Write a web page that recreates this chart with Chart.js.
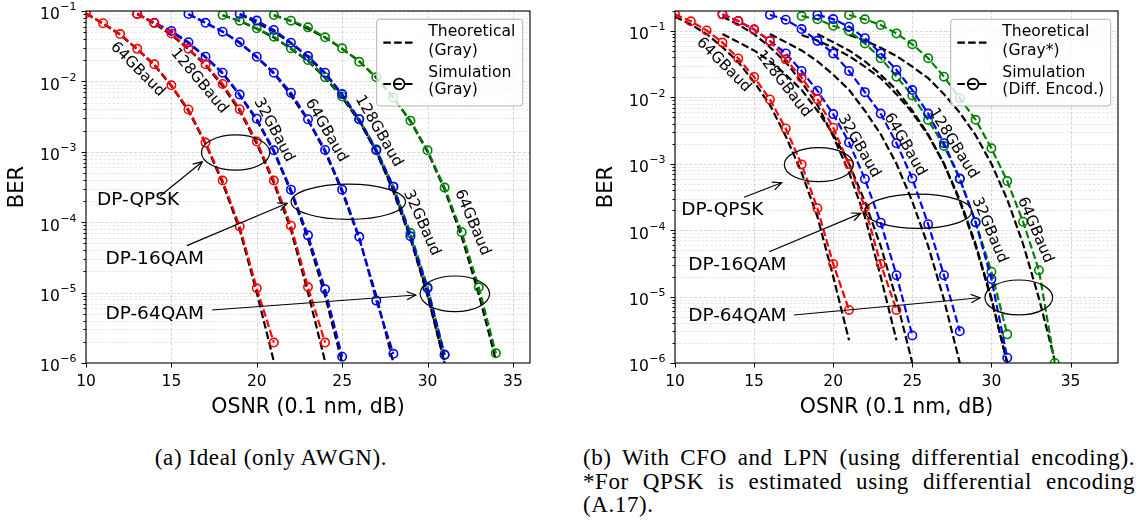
<!DOCTYPE html>
<html lang="en">
<head>
<meta charset="utf-8">
<title>BER vs OSNR</title>
<script src="https://cdn.jsdelivr.net/npm/chart.js@4.4.1/dist/chart.umd.min.js"></script>
<style>
  html, body { margin: 0; padding: 0; background: #fff; }
  body { position: relative; width: 1141px; height: 522px; overflow: hidden; }
  canvas { position: absolute; top: 0; }
  #panelA { left: 0; }
  #panelB { left: 560px; }
  .caption { position: absolute; font-family: "Liberation Serif", "Times New Roman", serif; font-size: 23px;
             color: #000; letter-spacing: 0.6px; line-height: 23.5px; white-space: nowrap; }
  #capA { left: 0; width: 542px; top: 446px; text-align: center; }
  #capB { left: 583px; width: 552px; top: 446px; }
  #capB .j { text-align: justify; text-align-last: justify; white-space: normal; }
</style>
</head>
<body>
<canvas id="panelA" width="560" height="420"></canvas>
<canvas id="panelB" width="581" height="420"></canvas>
<div class="caption" id="capA">(a) Ideal (only AWGN).</div>
<div class="caption" id="capB">
  <div class="j">(b) With CFO and LPN (using differential encoding).</div>
  <div class="j">*For QPSK is estimated using differential encoding</div>
  <div>(A.17).</div>
</div>
<script>
// ---------- axes ----------
const xTickValues = [10, 15, 20, 25, 30, 35];
const yTickValues = [1e-6, 1e-5, 1e-4, 1e-3, 1e-2, 1e-1];
const yTickBase = '10';
const yTickExponents = ['−6', '−5', '−4', '−3', '−2', '−1'];

// ---------- OSNR grids (dB) ----------
const osnrQpsk64   = [10, 11, 12, 13, 14, 15, 16, 17, 18, 19, 20, 21];
const osnrQpsk128  = [13, 14, 15, 16, 17, 18, 19, 20, 21, 22, 23, 24];
const osnr16qam32  = [13, 14, 15, 16, 17, 18, 19, 20, 21, 22, 23, 24, 25];
const osnr16qam64  = [16, 17, 18, 19, 20, 21, 22, 23, 24, 25, 26, 27, 28];
const osnr16qam128 = [19, 20, 21, 22, 23, 24, 25, 26, 27, 28, 29, 30, 31];
const osnr64qam32  = [18, 19, 20, 21, 22, 23, 24, 25, 26, 27, 28, 29, 30, 31];
const osnr64qam64  = [21, 22, 23, 24, 25, 26, 27, 28, 29, 30, 31, 32, 33, 34];

// ---------- theoretical BER, Gray mapping ----------
const thQpsk64   = [0.092, 0.066, 0.046, 0.0285, 0.017, 0.0086, 0.0038, 0.0013, 3.6e-4, 7.8e-5, 1.0e-5, 1.05e-6];
const thQpsk128  = [0.092, 0.066, 0.046, 0.0285, 0.017, 0.0086, 0.0038, 0.0013, 3.6e-4, 7.8e-5, 1.0e-5, 1.05e-6];
const th16qam32  = [0.09, 0.068, 0.051, 0.035, 0.022, 0.013, 0.0063, 0.0028, 0.001, 2.7e-4, 5.8e-5, 9.0e-6, 1.0e-6];
const th16qam64  = [0.09, 0.068, 0.051, 0.035, 0.022, 0.013, 0.0063, 0.0028, 0.001, 2.7e-4, 5.8e-5, 9.0e-6, 1.0e-6];
const th16qam128 = [0.09, 0.068, 0.051, 0.035, 0.022, 0.013, 0.0063, 0.0028, 0.001, 2.7e-4, 5.8e-5, 9.0e-6, 1.0e-6];
const th64qam32  = [0.087, 0.072, 0.056, 0.042, 0.029, 0.0195, 0.0112, 0.0059, 0.0027, 0.001, 2.9e-4, 6.2e-5, 9.5e-6, 1.0e-6];
const th64qam64  = [0.087, 0.072, 0.056, 0.042, 0.029, 0.0195, 0.0112, 0.0059, 0.0027, 0.001, 2.9e-4, 6.2e-5, 9.5e-6, 1.1e-6];
// QPSK estimate with differential encoding (Gray*)
const thDeQpsk64  = [0.164, 0.125, 0.09, 0.057, 0.034, 0.017, 0.0077, 0.0026, 7.4e-4, 1.6e-4, 2.0e-5, 2.2e-6];
const thDeQpsk128 = [0.164, 0.125, 0.09, 0.057, 0.034, 0.017, 0.0077, 0.0026, 7.4e-4, 1.6e-4, 2.0e-5, 2.2e-6];

// ---------- simulated BER, ideal channel (Gray) ----------
const aQpsk64   = [0.093, 0.067, 0.047, 0.029, 0.0175, 0.0088, 0.004, 0.00135, 3.9e-4, 8.7e-5, 1.15e-5, 1.95e-6];
const aQpsk128  = [0.091, 0.0676, 0.048, 0.0292, 0.0175, 0.0092, 0.00403, 0.0014, 3.9e-4, 8.9e-5, 1.2e-5, 1.95e-6];
const a16qam32  = [0.091, 0.068, 0.052, 0.036, 0.0224, 0.0133, 0.0065, 0.00295, 0.00105, 2.9e-4, 6.5e-5, 1.12e-5, 1.23e-6];
const a16qam64  = [0.0906, 0.068, 0.0508, 0.036, 0.0224, 0.0133, 0.0069, 0.0029, 0.00106, 2.9e-4, 6.2e-5, 7.7e-6, 1.35e-6];
const a16qam128 = [0.091, 0.073, 0.0537, 0.0355, 0.0229, 0.0133, 0.0066, 0.0029, 0.00105, 3.2e-4, 6.3e-5, 1.15e-5, 1.3e-6];
const a64qam32  = [0.0877, 0.0728, 0.0568, 0.0432, 0.0295, 0.0201, 0.0115, 0.0061, 0.0029, 0.00109, 3.2e-4, 7.0e-5, 1.2e-5, 1.32e-6];
const a64qam64  = [0.0877, 0.0728, 0.0586, 0.0423, 0.0295, 0.019, 0.0115, 0.0059, 0.00277, 0.00105, 3.1e-4, 7.2e-5, 1.19e-5, 1.38e-6];

// ---------- simulated BER, CFO + LPN (differential encoding) ----------
const bQpsk64   = [0.178, 0.14, 0.102, 0.067, 0.0385, 0.0203, 0.0093, 0.0034, 9.8e-4, 2.14e-4, 3.1e-5, 6.3e-6];
const bQpsk128  = [0.178, 0.141, 0.106, 0.0707, 0.0374, 0.0198, 0.0094, 0.0035, 9.9e-4, 2.2e-4, 3.1e-5, 6.3e-6];
const b16qam32  = [0.178, 0.141, 0.105, 0.071, 0.046, 0.025, 0.0126, 0.0056, 0.0021, 5.9e-4, 1.3e-4, 2.1e-5, 2.6e-6];
const b16qam64  = [0.175, 0.148, 0.107, 0.071, 0.046, 0.025, 0.012, 0.0057, 0.00204, 6.0e-4, 1.23e-4, 2.1e-5, 3.0e-6];
const b16qam128 = [0.175, 0.151, 0.116, 0.078, 0.046, 0.0259, 0.0129, 0.0057, 0.00204, 6.0e-4, 1.32e-4, 1.84e-5, 1.2e-6];
const b64qam32  = [0.168, 0.15, 0.12, 0.1, 0.065, 0.039, 0.0205, 0.0107, 0.00457, 0.00186, 5.9e-4, 1.31e-4, 2.37e-5, 2.7e-6];
const b64qam64  = [0.174, 0.15, 0.123, 0.092, 0.063, 0.039, 0.0205, 0.0097, 0.0046, 0.00171, 5.5e-4, 1.34e-4, 2.5e-5, 1.0e-6];

// ---------- styling ----------
const FONT = '"DejaVu Sans", "Liberation Sans", sans-serif';
const RED = '#ff0000', BLUE = '#0000ff', GREEN = '#008000';
const DASH = [7.6, 3.2];

Chart.defaults.font.family = FONT;
Chart.defaults.color = '#000';

function points(xs, ys) { return xs.map((x, i) => ({ x: x, y: ys[i] })); }

function simSet(label, xs, ys, color) {
  return {
    label: label, data: points(xs, ys), order: 0,
    borderColor: color, borderWidth: 2.2, borderDash: DASH, fill: false, tension: 0,
    pointStyle: 'circle', pointRadius: 4.2, pointBorderWidth: 1.6,
    pointBorderColor: color, pointBackgroundColor: 'rgba(0,0,0,0)', pointHoverRadius: 0
  };
}
function theorySet(label, xs, ys) {
  return {
    label: label, data: points(xs, ys), order: 1,
    borderColor: '#000', borderWidth: 2.2, borderDash: DASH, fill: false, tension: 0,
    pointRadius: 0, pointHoverRadius: 0
  };
}

// ---------- annotation layouts (data coordinates) ----------
const notesA = {
  baud: [
    { text: '64GBaud',  x: 13.02, y: 0.0148,  rot: 45 },
    { text: '128GBaud', x: 16.63, y: 0.0101,  rot: 50 },
    { text: '32GBaud',  x: 21.0,  y: 0.00204, rot: 62 },
    { text: '64GBaud',  x: 24.06, y: 0.00201, rot: 60 },
    { text: '128GBaud', x: 27.14, y: 0.00197, rot: 60 },
    { text: '32GBaud',  x: 29.66, y: 9.75e-5, rot: 66 },
    { text: '64GBaud',  x: 32.62, y: 9.9e-5,  rot: 67 }
  ],
  groups: [
    { text: 'DP-QPSK',  tx: 13.05, ty: 2.06e-4, from: [14.34, 2.36e-4], to: [16.81, 7.24e-4], ell: { x: 18.76, y: 9.77e-4, w: 4.0, h: 0.5 } },
    { text: 'DP-16QAM', tx: 14.02, ty: 2.97e-5, from: [15.91, 4.64e-5], to: [21.78, 1.86e-4], ell: { x: 25.36, y: 1.95e-4, w: 6.7, h: 0.5 } },
    { text: 'DP-64QAM', tx: 14.02, ty: 4.97e-6, from: [17.38, 5.66e-6], to: [29.31, 9.25e-6], ell: { x: 31.6, y: 9.6e-6, w: 4.07, h: 0.507 } }
  ],
  legend: { width: 146, entries: [['Theoretical', '(Gray)'], ['Simulation', '(Gray)']] }
};
const notesB = {
  baud: [
    { text: '64GBaud',  x: 13.07, y: 0.0308,  rot: 45 },
    { text: '128GBaud', x: 16.86, y: 0.0159,  rot: 52 },
    { text: '32GBaud',  x: 21.63, y: 0.00185, rot: 60 },
    { text: '64GBaud',  x: 24.54, y: 0.00195, rot: 60 },
    { text: '128GBaud', x: 27.6,  y: 0.00202, rot: 58 },
    { text: '32GBaud',  x: 29.88, y: 1.0e-4,  rot: 67 },
    { text: '64GBaud',  x: 32.76, y: 1.0e-4,  rot: 67 }
  ],
  groups: [
    { text: 'DP-QPSK',  tx: 12.99, ty: 2.01e-4, from: [14.36, 3.13e-4], to: [16.74, 5.19e-4], ell: { x: 19.09, y: 9.7e-4, w: 4.36, h: 0.512 } },
    { text: 'DP-16QAM', tx: 13.94, ty: 2.99e-5, from: [15.96, 4.74e-5], to: [21.74, 1.79e-4], ell: { x: 25.38, y: 1.93e-4, w: 6.74, h: 0.517 } },
    { text: 'DP-64QAM', tx: 13.94, ty: 5.13e-6, from: [17.52, 5.28e-6], to: [29.28, 9.6e-6], ell: { x: 31.73, y: 9.7e-6, w: 4.28, h: 0.527 } }
  ],
  legend: { width: 160, entries: [['Theoretical', '(Gray*)'], ['Simulation', '(Diff. Encod.)']] }
};

// ---------- drawing helpers ----------
function drawGrid(chart) {
  const ctx = chart.ctx, a = chart.chartArea, xs = chart.scales.x, ys = chart.scales.y;
  ctx.save();
  ctx.beginPath(); ctx.rect(a.left, a.top, a.right - a.left, a.bottom - a.top); ctx.clip();
  ctx.lineWidth = 0.8;
  ctx.strokeStyle = 'rgba(0,0,0,0.12)'; ctx.setLineDash([2.6, 1.8]);
  for (let e = -7; e <= 0; e++) {
    for (let m = 2; m <= 9; m++) {
      const v = m * Math.pow(10, e);
      if (v < ys.min || v > ys.max) continue;
      const p = Math.round(ys.getPixelForValue(v)) + 0.5;
      ctx.beginPath(); ctx.moveTo(a.left, p); ctx.lineTo(a.right, p); ctx.stroke();
    }
  }
  ctx.strokeStyle = 'rgba(0,0,0,0.2)'; ctx.setLineDash([3, 1.8]);
  yTickValues.forEach(v => {
    const p = Math.round(ys.getPixelForValue(v)) + 0.5;
    ctx.beginPath(); ctx.moveTo(a.left, p); ctx.lineTo(a.right, p); ctx.stroke();
  });
  xTickValues.forEach(v => {
    const p = Math.round(xs.getPixelForValue(v)) + 0.5;
    ctx.beginPath(); ctx.moveTo(p, a.top); ctx.lineTo(p, a.bottom); ctx.stroke();
  });
  ctx.restore();
}

function drawFrame(chart) {
  const ctx = chart.ctx, a = chart.chartArea, xs = chart.scales.x, ys = chart.scales.y;
  ctx.save();
  ctx.setLineDash([]); ctx.strokeStyle = '#000'; ctx.lineWidth = 1.1;
  ctx.strokeRect(a.left, a.top, a.right - a.left, a.bottom - a.top);
  ctx.lineWidth = 1;
  xTickValues.forEach(v => {
    const p = Math.round(xs.getPixelForValue(v)) + 0.5;
    ctx.beginPath(); ctx.moveTo(p, a.bottom); ctx.lineTo(p, a.bottom + 4.5); ctx.stroke();
  });
  for (let e = -7; e <= 0; e++) {
    for (let m = 1; m <= 9; m++) {
      const v = m * Math.pow(10, e);
      if (v < ys.min * 0.999 || v > ys.max * 1.001) continue;
      const p = Math.round(ys.getPixelForValue(v)) + 0.5;
      const len = m === 1 ? 4.5 : 2.5;
      ctx.beginPath(); ctx.moveTo(a.left, p); ctx.lineTo(a.left - len, p); ctx.stroke();
    }
  }
  // decade labels with raised exponent
  ctx.fillStyle = '#000'; ctx.textAlign = 'right'; ctx.textBaseline = 'alphabetic';
  yTickValues.forEach((v, i) => {
    const p = ys.getPixelForValue(v);
    const xr = a.left - 9.5;
    ctx.font = '11px ' + FONT;
    const ew = ctx.measureText(yTickExponents[i]).width;
    ctx.fillText(yTickExponents[i], xr, p - 0.6);
    ctx.font = '15.5px ' + FONT;
    ctx.fillText(yTickBase, xr - ew - 0.5, p + 8.4);
  });
  ctx.restore();
}

function drawArrow(ctx, x0, y0, x1, y1) {
  ctx.beginPath(); ctx.moveTo(x0, y0); ctx.lineTo(x1, y1); ctx.stroke();
  const ang = Math.atan2(y1 - y0, x1 - x0), L = 9, W = 4.2;
  ctx.beginPath();
  ctx.moveTo(x1 - L * Math.cos(ang) + W * Math.sin(ang), y1 - L * Math.sin(ang) - W * Math.cos(ang));
  ctx.lineTo(x1, y1);
  ctx.lineTo(x1 - L * Math.cos(ang) - W * Math.sin(ang), y1 - L * Math.sin(ang) + W * Math.cos(ang));
  ctx.stroke();
}

function drawNotes(chart, notes) {
  const ctx = chart.ctx, xs = chart.scales.x, ys = chart.scales.y;
  const px = v => xs.getPixelForValue(v), py = v => ys.getPixelForValue(v);
  ctx.save();
  ctx.fillStyle = '#000'; ctx.strokeStyle = '#000'; ctx.setLineDash([]);
  ctx.textAlign = 'center'; ctx.textBaseline = 'middle';
  ctx.font = '15.2px ' + FONT;
  notes.baud.forEach(b => {
    ctx.save(); ctx.translate(px(b.x), py(b.y)); ctx.rotate(b.rot * Math.PI / 180);
    ctx.fillText(b.text, 0, 0); ctx.restore();
  });
  ctx.lineWidth = 1.2;
  notes.groups.forEach(g => {
    const e = g.ell;
    const cx = px(e.x), cy = py(e.y);
    const rx = (px(e.x + e.w / 2) - px(e.x - e.w / 2)) / 2;
    const ry = (py(e.y / Math.pow(10, e.h / 2)) - py(e.y * Math.pow(10, e.h / 2))) / 2;
    ctx.beginPath(); ctx.ellipse(cx, cy, rx, ry, 0, 0, Math.PI * 2); ctx.stroke();
    drawArrow(ctx, px(g.from[0]), py(g.from[1]), px(g.to[0]), py(g.to[1]));
    ctx.font = '18.5px ' + FONT;
    ctx.fillText(g.text, px(g.tx), py(g.ty));
  });
  ctx.restore();
}

function drawLegendBox(chart, lg) {
  const ctx = chart.ctx, a = chart.chartArea;
  const w = lg.width, h = 86.7;
  const bx = a.right - 7.3 - w, by = a.top + 8.3;
  ctx.save();
  ctx.setLineDash([]);
  ctx.beginPath();
  if (ctx.roundRect) ctx.roundRect(bx, by, w, h, 3); else ctx.rect(bx, by, w, h);
  ctx.fillStyle = 'rgba(255,255,255,0.8)'; ctx.fill();
  ctx.strokeStyle = 'rgba(170,170,170,0.9)'; ctx.lineWidth = 1; ctx.stroke();
  // handles
  ctx.strokeStyle = '#000'; ctx.lineWidth = 2.2; ctx.setLineDash(DASH);
  const hx0 = bx + 6.6, hx1 = bx + 38.3;
  ctx.beginPath(); ctx.moveTo(hx0, by + 23.4); ctx.lineTo(hx1, by + 23.4); ctx.stroke();
  ctx.beginPath(); ctx.moveTo(hx0, by + 64.7); ctx.lineTo(hx1, by + 64.7); ctx.stroke();
  ctx.setLineDash([]); ctx.lineWidth = 1.7;
  ctx.beginPath(); ctx.arc((hx0 + hx1) / 2, by + 64.7, 5.4, 0, Math.PI * 2); ctx.stroke();
  // labels
  ctx.fillStyle = '#000'; ctx.textAlign = 'left'; ctx.textBaseline = 'middle';
  ctx.font = '15.6px ' + FONT;
  const tx = bx + 51.6;
  ctx.fillText(lg.entries[0][0], tx, by + 12.7);
  ctx.fillText(lg.entries[0][1], tx, by + 31.4);
  ctx.fillText(lg.entries[1][0], tx, by + 54.0);
  ctx.fillText(lg.entries[1][1], tx, by + 70.7);
  ctx.restore();
}

function drawTitles(chart) {
  const ctx = chart.ctx, a = chart.chartArea;
  ctx.save();
  ctx.fillStyle = '#000';
  ctx.textAlign = 'center'; ctx.textBaseline = 'middle';
  ctx.font = '20.5px ' + FONT;
  ctx.fillText('OSNR (0.1 nm, dB)', (a.left + a.right) / 2, a.bottom + 45);
  ctx.font = '21px ' + FONT;
  ctx.translate(a.left - 68, (a.top + a.bottom) / 2);
  ctx.rotate(-Math.PI / 2);
  ctx.fillText('BER', 0, 0);
  ctx.restore();
}

const panelNotes = { panelA: notesA, panelB: notesB };

const decorPlugin = {
  id: 'berDecor',
  beforeDatasetsDraw(chart) { drawGrid(chart); },
  afterDatasetsDraw(chart) {
    const notes = panelNotes[chart.canvas.id];
    drawFrame(chart);
    drawNotes(chart, notes);
    drawLegendBox(chart, notes.legend);
    drawTitles(chart);
  }
};

function makePanel(canvasId, cfg) {
  const cv = document.getElementById(canvasId);
  return new Chart(cv, {
    type: 'line',
    data: { datasets: cfg.datasets },
    options: {
      responsive: false, animation: false, devicePixelRatio: 1,
      events: [],
      layout: { padding: { left: 0, top: 11, right: cfg.padRight, bottom: 0 } },
      plugins: { legend: { display: false }, tooltip: { enabled: false } },
      scales: {
        x: {
          type: 'linear', min: 10, max: cfg.xMax,
          grid: { display: false, drawTicks: false }, border: { display: false },
          ticks: { padding: 10, color: '#000', font: { family: FONT, size: 15.5 }, maxRotation: 0, autoSkip: false },
          afterBuildTicks: s => { s.ticks = xTickValues.map(v => ({ value: v })); },
          afterFit: s => { s.height = cv.height - 363; }
        },
        y: {
          type: 'logarithmic', min: 1e-6, max: cfg.yMax,
          grid: { display: false, drawTicks: false }, border: { display: false },
          ticks: { display: false },
          afterBuildTicks: s => { s.ticks = yTickValues.map(v => ({ value: v, major: true })); },
          afterFit: s => { s.width = cfg.left; }
        }
      }
    },
    plugins: [decorPlugin]
  });
}

makePanel('panelA', {
  left: 86, padRight: 30, xMax: 36, yMax: 0.1,
  datasets: [
    simSet('DP-QPSK 64GBaud (sim.)', osnrQpsk64, aQpsk64, RED),
    simSet('DP-QPSK 128GBaud (sim.)', osnrQpsk128, aQpsk128, RED),
    simSet('DP-16QAM 32GBaud (sim.)', osnr16qam32, a16qam32, BLUE),
    simSet('DP-16QAM 64GBaud (sim.)', osnr16qam64, a16qam64, BLUE),
    simSet('DP-16QAM 128GBaud (sim.)', osnr16qam128, a16qam128, BLUE),
    simSet('DP-64QAM 32GBaud (sim.)', osnr64qam32, a64qam32, GREEN),
    simSet('DP-64QAM 64GBaud (sim.)', osnr64qam64, a64qam64, GREEN),
    theorySet('DP-QPSK 64GBaud (theory)', osnrQpsk64, thQpsk64),
    theorySet('DP-QPSK 128GBaud (theory)', osnrQpsk128, thQpsk128),
    theorySet('DP-16QAM 32GBaud (theory)', osnr16qam32, th16qam32),
    theorySet('DP-16QAM 64GBaud (theory)', osnr16qam64, th16qam64),
    theorySet('DP-16QAM 128GBaud (theory)', osnr16qam128, th16qam128),
    theorySet('DP-64QAM 32GBaud (theory)', osnr64qam32, th64qam32),
    theorySet('DP-64QAM 64GBaud (theory)', osnr64qam64, th64qam64)
  ]
});

makePanel('panelB', {
  left: 115, padRight: 23, xMax: 38, yMax: 0.2,
  datasets: [
    simSet('DP-QPSK 64GBaud (sim.)', osnrQpsk64, bQpsk64, RED),
    simSet('DP-QPSK 128GBaud (sim.)', osnrQpsk128, bQpsk128, RED),
    simSet('DP-16QAM 32GBaud (sim.)', osnr16qam32, b16qam32, BLUE),
    simSet('DP-16QAM 64GBaud (sim.)', osnr16qam64, b16qam64, BLUE),
    simSet('DP-16QAM 128GBaud (sim.)', osnr16qam128, b16qam128, BLUE),
    simSet('DP-64QAM 32GBaud (sim.)', osnr64qam32, b64qam32, GREEN),
    simSet('DP-64QAM 64GBaud (sim.)', osnr64qam64, b64qam64, GREEN),
    theorySet('DP-QPSK 64GBaud (theory)', osnrQpsk64, thDeQpsk64),
    theorySet('DP-QPSK 128GBaud (theory)', osnrQpsk128, thDeQpsk128),
    theorySet('DP-16QAM 32GBaud (theory)', osnr16qam32, th16qam32),
    theorySet('DP-16QAM 64GBaud (theory)', osnr16qam64, th16qam64),
    theorySet('DP-16QAM 128GBaud (theory)', osnr16qam128, th16qam128),
    theorySet('DP-64QAM 32GBaud (theory)', osnr64qam32, th64qam32),
    theorySet('DP-64QAM 64GBaud (theory)', osnr64qam64, th64qam64)
  ]
});
</script>
</body>
</html>
